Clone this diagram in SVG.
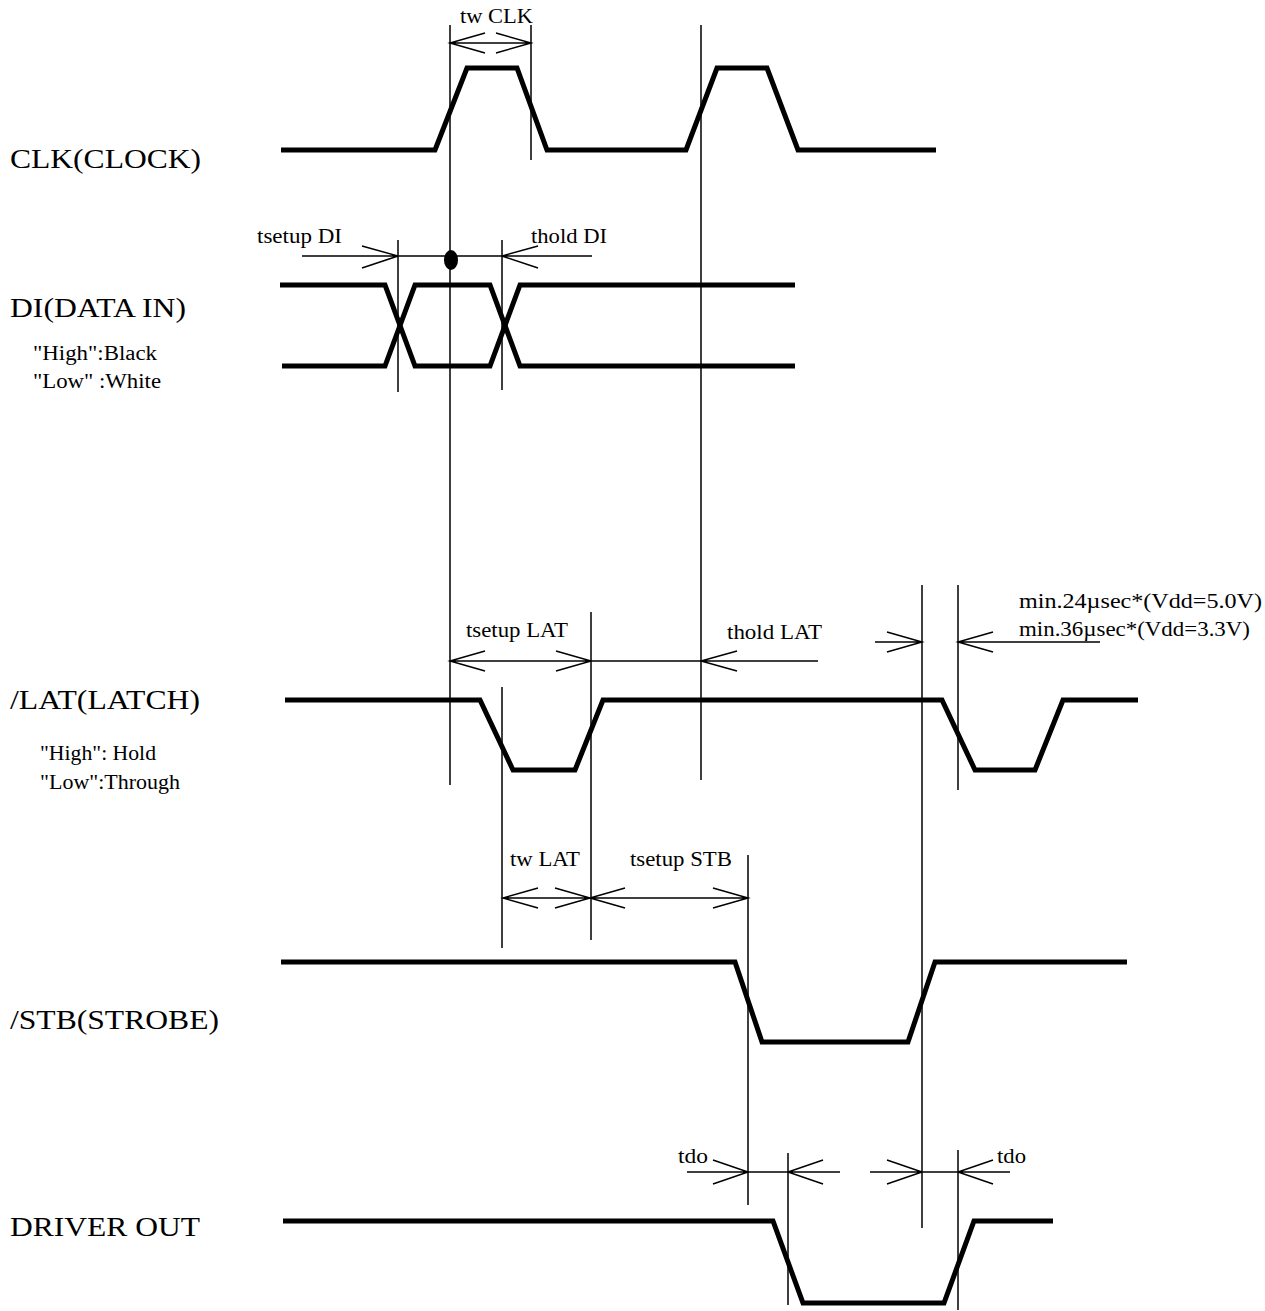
<svg xmlns="http://www.w3.org/2000/svg" width="1265" height="1311" viewBox="0 0 1265 1311">
<style>
.sig{fill:none;stroke:#000;stroke-width:5;stroke-linejoin:miter}
.thin{fill:none;stroke:#000;stroke-width:1.5}
.lbl{font-family:"Liberation Serif",serif;font-size:28px;fill:#000}
.sm{font-family:"Liberation Serif",serif;font-size:20px;fill:#000}
.an{font-family:"Liberation Serif",serif;font-size:21px;fill:#000}
</style>
<rect width="1265" height="1311" fill="#fff"/>
<g id="labels">
<text class="lbl" x="10" y="168" textLength="191" lengthAdjust="spacingAndGlyphs">CLK(CLOCK)</text>
<text class="lbl" x="10" y="317" textLength="176" lengthAdjust="spacingAndGlyphs">DI(DATA IN)</text>
<text class="sm" x="33" y="360" textLength="124" lengthAdjust="spacingAndGlyphs">"High":Black</text>
<text class="sm" x="33" y="388" textLength="128" lengthAdjust="spacingAndGlyphs">"Low" :White</text>
<text class="lbl" x="10" y="709" textLength="190" lengthAdjust="spacingAndGlyphs">/LAT(LATCH)</text>
<text class="sm" x="40" y="760" textLength="116" lengthAdjust="spacingAndGlyphs">"High": Hold</text>
<text class="sm" x="40" y="789" textLength="140" lengthAdjust="spacingAndGlyphs">"Low":Through</text>
<text class="lbl" x="10" y="1029" textLength="209" lengthAdjust="spacingAndGlyphs">/STB(STROBE)</text>
<text class="lbl" x="10" y="1236" textLength="190" lengthAdjust="spacingAndGlyphs">DRIVER OUT</text>
</g>
<g id="signals">
<polyline id="clk" class="sig" points="281,150 435,150 467,68 517,68 547,150 686,150 717,68 767,68 798,150 936,150"/>
<polyline id="di-a" class="sig" points="280,285 385,285 415,366 490,366 520,285 795,285"/>
<polyline id="di-b" class="sig" points="282,366 385,366 415,285 490,285 520,366 795,366"/>
<polyline id="lat" class="sig" points="285,700 480,700 513,770 575,770 603,700 942,700 975,770 1035,770 1063,700 1138,700"/>
<polyline id="stb" class="sig" points="281,962 735,962 762,1042 908,1042 935,962 1127,962"/>
<polyline id="drv" class="sig" points="283,1221 773,1221 803,1303 944,1303 974,1221 1053,1221"/>
</g>
<g id="connectors">
<path class="thin" d="M450,25V785 M531,25V160 M701,25V780 M398,240V392 M502,240V390 M502,687V948 M591,612V940 M922,585V1228 M958,585V790 M748,855V1205 M788,1153V1305 M958,1150V1310"/>
<path class="thin" d="M450,43H531 M485,33L450,43L485,53 M496,33L531,43L496,53"/>
<path class="thin" d="M302,256H592 M362,246L398,256L362,268 M538,246L502,256L538,268"/>
<ellipse cx="451" cy="260" rx="7" ry="10" fill="#000"/>
<path class="thin" d="M450,661H818 M485,651L450,661L485,671 M556,651L591,661L556,671 M737,651L701,661L737,671"/>
<path class="thin" d="M875,642H922 M887,632L922,642L887,652 M958,642H1100 M993,632L958,642L993,652"/>
<path class="thin" d="M503,898H748 M538,888L503,898L538,908 M555,888L590,898L555,908 M625,888L590,898L625,908 M713,888L748,898L713,908"/>
<path class="thin" d="M687,1172H840 M713,1160L748,1172L713,1184 M823,1160L788,1172L823,1184 M870,1172H1010 M887,1160L922,1172L887,1184 M993,1160L958,1172L993,1184"/>
</g>
<g id="annotations">
<text class="an" x="460" y="23" textLength="73" lengthAdjust="spacingAndGlyphs">tw CLK</text>
<text class="an" x="257" y="243" textLength="85" lengthAdjust="spacingAndGlyphs">tsetup DI</text>
<text class="an" x="531" y="243" textLength="76" lengthAdjust="spacingAndGlyphs">thold DI</text>
<text class="an" x="466" y="637" textLength="102" lengthAdjust="spacingAndGlyphs">tsetup LAT</text>
<text class="an" x="727" y="639" textLength="95" lengthAdjust="spacingAndGlyphs">thold LAT</text>
<text class="an" x="1019" y="608" textLength="243" lengthAdjust="spacingAndGlyphs">min.24µsec*(Vdd=5.0V)</text>
<text class="an" x="1019" y="636" textLength="231" lengthAdjust="spacingAndGlyphs">min.36µsec*(Vdd=3.3V)</text>
<text class="an" x="510" y="866" textLength="70" lengthAdjust="spacingAndGlyphs">tw LAT</text>
<text class="an" x="630" y="866" textLength="102" lengthAdjust="spacingAndGlyphs">tsetup STB</text>
<text class="an" x="678" y="1163" textLength="30" lengthAdjust="spacingAndGlyphs">tdo</text>
<text class="an" x="997" y="1163" textLength="29" lengthAdjust="spacingAndGlyphs">tdo</text>
</g>
</svg>
